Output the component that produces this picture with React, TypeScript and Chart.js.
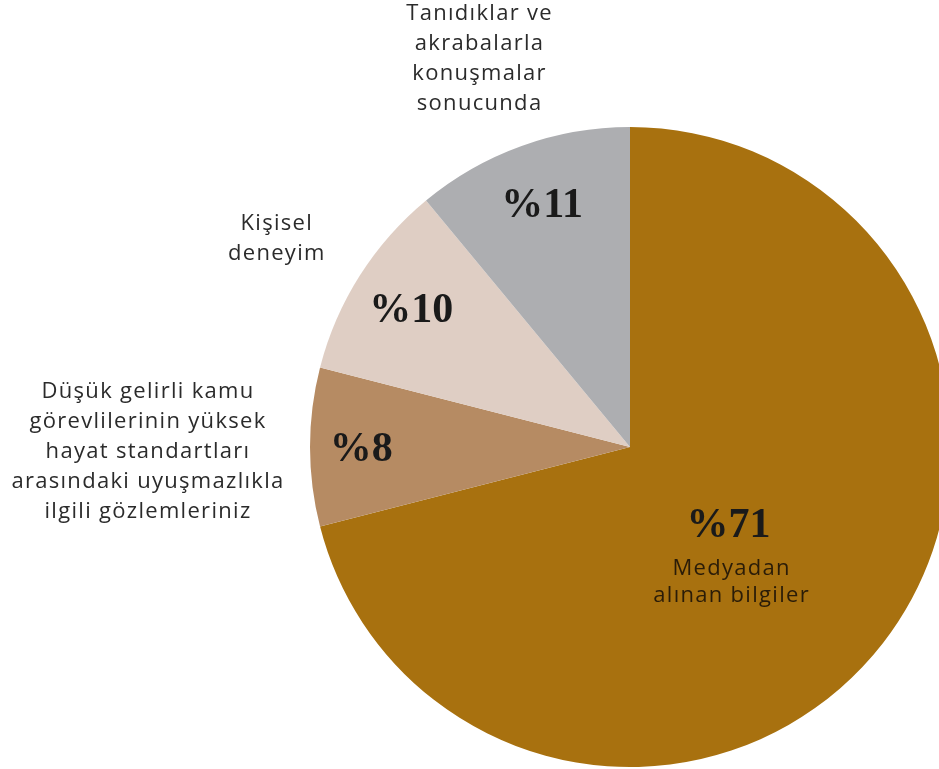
import React, { useEffect, useRef } from "react";
import { Chart, registerables } from "chart.js";

Chart.register(...registerables);

const categories = [
  "Medyadan alınan bilgiler",
  "Düşük gelirli kamu görevlilerinin yüksek hayat standartları arasındaki uyuşmazlıkla ilgili gözlemleriniz",
  "Kişisel deneyim",
  "Tanıdıklar ve akrabalarla konuşmalar sonucunda",
];
const values = [71, 8, 10, 11];
const percentLabels = ["%71", "%8", "%10", "%11"];
const innerCaptions: string[][] = [["Medyadan", "alınan bilgiler"], [], [], []];
const outerCaptions: string[][] = [
  [],
  ["Düşük gelirli kamu", "görevlilerinin yüksek", "hayat standartları", "arasındaki uyuşmazlıkla", "ilgili gözlemleriniz"],
  ["Kişisel", "deneyim"],
  ["Tanıdıklar ve", "akrabalarla", "konuşmalar", "sonucunda"],
];
const colors = ["#A8710F", "#B68B63", "#DFCEC4", "#ADAEB1"];

const LABEL_FONT = "500 22px 'Open Sans', Lato, sans-serif";
const LABEL_SPACING = "1.3px";
const PCT_FONT = "bold 42px 'Liberation Serif', 'DejaVu Serif', serif";

// radial position (fraction of radius) of the percentage inside each slice
const pctRadius = [0.39, 0.84, 0.81, 0.81];
// outer caption block: [dx, dy] of block centre relative to slice's outer edge at mid angle
const outerOffset: [number, number][] = [
  [0, 0],
  [-162, 4],
  [-83, -38],
  [-42, -88],
];

const labelPlugin = {
  id: "sliceLabels",
  afterDatasetsDraw(chart: any) {
    const ctx = chart.ctx;
    const meta = chart.getDatasetMeta(0);
    ctx.save();
    meta.data.forEach((arc: any, i: number) => {
      const { x, y, startAngle, endAngle, outerRadius } = arc.getProps(
        ["x", "y", "startAngle", "endAngle", "outerRadius"],
        true
      );
      const mid = (startAngle + endAngle) / 2;
      const cx = x + Math.cos(mid) * outerRadius * pctRadius[i];
      const cy = y + Math.sin(mid) * outerRadius * pctRadius[i];
      ctx.fillStyle = "#1a1a1a";
      ctx.textAlign = "center";
      ctx.textBaseline = "alphabetic";
      ctx.letterSpacing = "0px";
      ctx.font = PCT_FONT;
      ctx.fillText(percentLabels[i], cx, cy + 14);
      // inner caption lines
      ctx.font = LABEL_FONT;
      ctx.letterSpacing = LABEL_SPACING;
      ctx.fillStyle = "#2a1c08";
      innerCaptions[i].forEach((line, k) => {
        ctx.fillText(line, cx + 3, cy + 52 + k * 27);
      });
      // outer captions
      const lines = outerCaptions[i];
      if (lines.length) {
        const ex = x + Math.cos(mid) * outerRadius + outerOffset[i][0];
        const ey = y + Math.sin(mid) * outerRadius + outerOffset[i][1];
        const lh = 30;
        const top = ey - ((lines.length - 1) * lh) / 2;
        ctx.fillStyle = "#2b2b2b";
        lines.forEach((line, k) => {
          ctx.fillText(line, ex, top + k * lh + 7);
        });
      }
    });
    ctx.restore();
  },
};

export default function App() {
  const ref = useRef<HTMLCanvasElement>(null);
  useEffect(() => {
    document.body.style.margin = "0";
    const chart = new Chart(ref.current!, {
      type: "pie",
      data: {
        labels: categories,
        datasets: [
          {
            data: values,
            backgroundColor: colors,
            borderWidth: 0,
          },
        ],
      },
      options: {
        animation: false,
        responsive: false,
        layout: { padding: { left: 310, top: 127, right: 10, bottom: 2 } },
        plugins: { legend: { display: false }, tooltip: { enabled: false } },
      },
      plugins: [labelPlugin],
    });
    return () => chart.destroy();
  }, []);
  return (
    <div
      style={{
        position: "fixed",
        left: 0,
        top: 0,
        width: 939,
        height: 769,
        overflow: "hidden",
        background: "#fff",
      }}
    >
      <canvas ref={ref} width={960} height={769} style={{ width: 960, height: 769, display: "block" }} />
    </div>
  );
}
